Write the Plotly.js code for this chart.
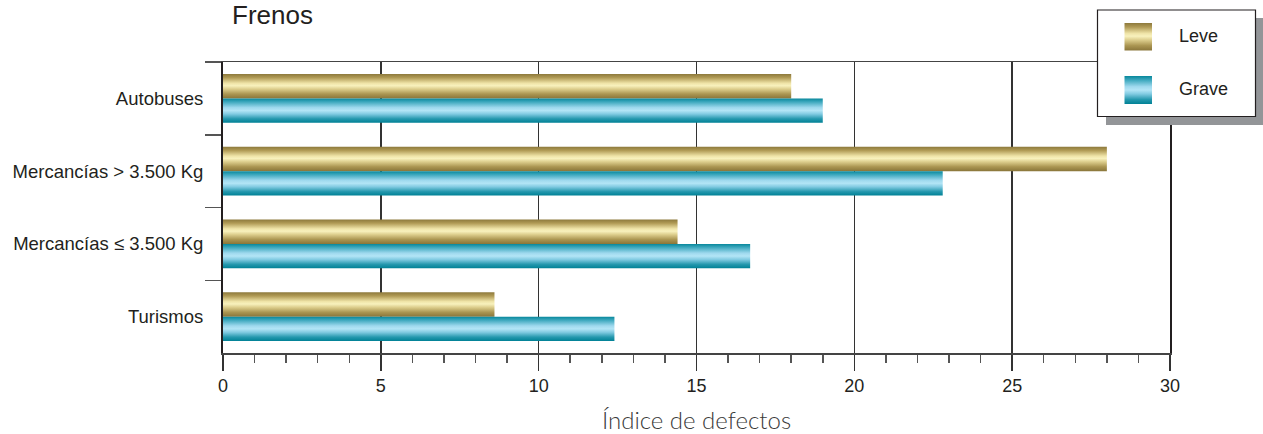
<!DOCTYPE html>
<html><head><meta charset="utf-8">
<script src="https://cdn.plot.ly/plotly-3.0.1.min.js"></script>
<style>html,body{margin:0;padding:0;background:#fff}</style>
</head><body><div id="chart" style="width:1263px;height:434px"></div>
<script>
const chartTitle = 'Frenos';
const xAxisTitle = 'Índice de defectos';
const categories = ['Autobuses', 'Mercancías > 3.500 Kg', 'Mercancías ≤ 3.500 Kg', 'Turismos'];
const seriesNames = ['Leve', 'Grave'];
const leveValues = [18.0, 28.0, 14.4, 8.6];
const graveValues = [19.0, 22.8, 16.7, 12.4];
const xTickValues = [0, 5, 10, 15, 20, 25, 30];

const LEVE_KEY = 'rgb(168, 150, 80)';
const GRAVE_KEY = 'rgb(20, 150, 170)';
const FONT = 'Liberation Sans, Arial, sans-serif';
const INK = '#231f20';

const data = [
  {type: 'bar', orientation: 'h', name: seriesNames[0], y: categories, x: leveValues,
   marker: {color: LEVE_KEY, line: {width: 0}}, hoverinfo: 'skip'},
  {type: 'bar', orientation: 'h', name: seriesNames[1], y: categories, x: graveValues,
   marker: {color: GRAVE_KEY, line: {width: 0}}, hoverinfo: 'skip'}
];

// plot area in pixels: x 223..1170, y 62..353
const L = 223, R = 1170, T = 62, B = 353;
const px = v => (v - L) / (R - L);
const py = v => (B - v) / (B - T);

const layout = {
  width: 1263, height: 434,
  margin: {l: L, r: 1263 - R, t: T, b: 434 - B, pad: 0},
  paper_bgcolor: '#fff', plot_bgcolor: '#fff',
  showlegend: false,
  barmode: 'group', bargap: 0.33, bargroupgap: 0,
  font: {family: FONT, size: 18, color: INK},
  title: {text: chartTitle, x: 232 / 1263, xref: 'container', xanchor: 'left',
          y: 1 - 6 / 434, yref: 'container', yanchor: 'top',
          font: {family: FONT, size: 26, color: INK}},
  xaxis: {
    range: [0, 30], tickvals: xTickValues, ticktext: xTickValues.map(String),
    showgrid: true, gridcolor: '#333', gridwidth: 1.5, zeroline: false,
    showline: true, linecolor: '#444', linewidth: 1.5, mirror: true,
    ticks: 'outside', ticklen: 16, tickwidth: 1.5, tickcolor: '#333',
    tickfont: {family: FONT, size: 18, color: INK},
    minor: {dtick: 1, ticks: 'outside', ticklen: 8, tickwidth: 1.5, tickcolor: '#555', showgrid: false},
    title: {text: xAxisTitle, standoff: 20, font: {family: 'Lato, sans-serif', weight: 300, size: 24, color: '#3a3a3a'}},
    fixedrange: true
  },
  yaxis: {
    type: 'category', categoryorder: 'array', categoryarray: categories,
    range: [3.5, -0.5], tickson: 'boundaries',
    showgrid: false, zeroline: false,
    showline: true, linecolor: INK, linewidth: 2, mirror: true,
    ticks: 'outside', ticklen: 16, tickwidth: 1.5, tickcolor: '#555',
    ticklabelstandoff: 14,
    tickfont: {family: FONT, size: 18.5, color: INK},
    fixedrange: true
  },
  shapes: [
    {type: 'rect', xref: 'paper', yref: 'paper', layer: 'above',
     x0: px(1106), x1: px(1264), y0: py(125), y1: py(18),
     fillcolor: '#939598', line: {width: 0}},
    {type: 'rect', xref: 'paper', yref: 'paper', layer: 'above',
     x0: px(1097.5), x1: px(1255.5), y0: py(116.5), y1: py(10),
     fillcolor: '#ffffff', line: {color: INK, width: 1.2}},
    {type: 'rect', xref: 'paper', yref: 'paper', layer: 'above',
     x0: px(1124.5), x1: px(1152), y0: py(50.5), y1: py(23),
     fillcolor: LEVE_KEY, line: {width: 0}},
    {type: 'rect', xref: 'paper', yref: 'paper', layer: 'above',
     x0: px(1124.5), x1: px(1152), y0: py(104), y1: py(76),
     fillcolor: GRAVE_KEY, line: {width: 0}}
  ],
  annotations: [
    {text: seriesNames[0], xref: 'paper', yref: 'paper', x: px(1177), y: py(35.5),
     xanchor: 'left', yanchor: 'middle', showarrow: false, font: {family: FONT, size: 18, color: INK}},
    {text: seriesNames[1], xref: 'paper', yref: 'paper', x: px(1177), y: py(89),
     xanchor: 'left', yanchor: 'middle', showarrow: false, font: {family: FONT, size: 18, color: INK}}
  ]
};

function addGradients(gd) {
  const NS = 'http://www.w3.org/2000/svg';
  const svg = gd.querySelector('svg.main-svg');
  let defs = svg.querySelector('defs');
  if (!defs) { defs = document.createElementNS(NS, 'defs'); svg.insertBefore(defs, svg.firstChild); }
  function grad(id, stops) {
    const g = document.createElementNS(NS, 'linearGradient');
    g.setAttribute('id', id);
    g.setAttribute('x1', '0'); g.setAttribute('y1', '0');
    g.setAttribute('x2', '0'); g.setAttribute('y2', '1');
    stops.forEach(([o, c]) => {
      const s = document.createElementNS(NS, 'stop');
      s.setAttribute('offset', o); s.setAttribute('stop-color', c);
      g.appendChild(s);
    });
    defs.appendChild(g);
  }
  grad('gLeve', [['0', '#8d793c'], ['0.15', '#b09a55'], ['0.38', '#efe4a8'], ['0.48', '#f8f1bd'],
                 ['0.62', '#dccd8c'], ['0.82', '#ab9652'], ['1', '#8a763a']]);
  grad('gGrave', [['0', '#07879b'], ['0.15', '#3fa9bf'], ['0.38', '#9fd9ee'], ['0.5', '#b3e5f6'],
                  ['0.64', '#82cbe2'], ['0.84', '#2598ae'], ['1', '#008195']]);
  gd.querySelectorAll('path').forEach(p => {
    const f = p.style.fill;
    if (f === LEVE_KEY) p.style.fill = 'url(#gLeve)';
    else if (f === GRAVE_KEY) p.style.fill = 'url(#gGrave)';
  });
}

Plotly.newPlot('chart', data, layout, {staticPlot: true, displayModeBar: false}).then(addGradients);
</script>
</body></html>
